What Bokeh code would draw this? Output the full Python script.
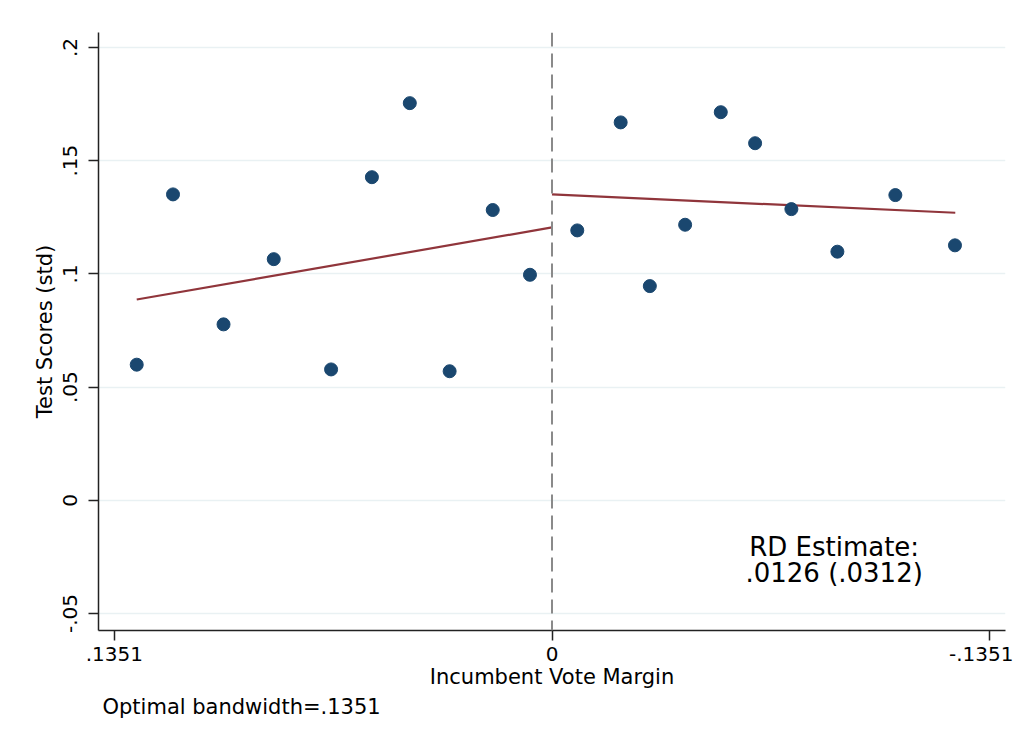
from bokeh.plotting import figure
from bokeh.models import Range1d, FixedTicker, Label, Title, Span
from bokeh.embed import file_html
from bokeh.resources import INLINE

# --- data (binned means) ---
left_x = [0.1282, 0.1170, 0.1014, 0.0859, 0.0682, 0.0556, 0.0439, 0.0316, 0.0183, 0.0068]
left_y = [0.0599, 0.1351, 0.0777, 0.1065, 0.0578, 0.1427, 0.1754, 0.0570, 0.1282, 0.0996]
right_x = [-0.0078, -0.0212, -0.0302, -0.0411, -0.0521, -0.0627, -0.0739, -0.0881, -0.1060, -0.1244]
right_y = [0.1192, 0.1669, 0.0946, 0.1217, 0.1714, 0.1577, 0.1286, 0.1098, 0.1348, 0.1126]

# fitted lines
fit_left_x = [0.1282, 0.0]
fit_left_y = [0.0887, 0.1205]
fit_right_x = [0.0, -0.1245]
fit_right_y = [0.1351, 0.1270]

y_ticks = [-0.05, 0, 0.05, 0.1, 0.15, 0.2]
y_labels = ["-.05", "0", ".05", ".1", ".15", ".2"]
x_ticks = [0.1351, 0, -0.1351]
x_labels = [".1351", "0", "-.1351"]

FONT = "DejaVu Sans"
NAVY = "#1a476f"
MAROON = "#90353b"

p = figure(width=1013, height=738, output_backend="svg", toolbar_location=None,
           x_range=Range1d(0.14, -0.14), y_range=Range1d(-0.0575, 0.2066),
           min_border_left=98, min_border_right=8, min_border_top=32, min_border_bottom=108)
p.outline_line_color = None
p.background_fill_color = "white"
p.border_fill_color = "white"

# grid
p.xgrid.grid_line_color = None
p.ygrid.grid_line_color = "#e9f1f3"
p.ygrid.grid_line_width = 1.5
p.ygrid.ticker = FixedTicker(ticks=y_ticks)

# axes
for ax in (p.xaxis[0], p.yaxis[0]):
    ax.axis_line_color = "#222222"
    ax.axis_line_width = 1.5
    ax.major_tick_line_color = "#222222"
    ax.major_tick_line_width = 1.5
    ax.major_tick_out = 10
    ax.major_tick_in = 0
    ax.minor_tick_line_color = None
    ax.major_label_text_font = FONT
    ax.major_label_text_font_size = "20px"
    ax.major_label_text_color = "black"
    ax.axis_label_text_font = FONT
    ax.axis_label_text_font_size = "21px"
    ax.axis_label_text_font_style = "normal"
    ax.axis_label_text_color = "black"

p.yaxis.ticker = FixedTicker(ticks=y_ticks)
p.yaxis.major_label_overrides = {t: l for t, l in zip(y_ticks, y_labels)}
p.yaxis.major_label_orientation = "vertical"
p.yaxis.axis_label = "Test Scores (std)"
p.yaxis.major_label_standoff = 11
p.yaxis.axis_label_standoff = 4

p.xaxis.ticker = FixedTicker(ticks=x_ticks)
p.xaxis.major_label_overrides = {t: l for t, l in zip(x_ticks, x_labels)}
p.xaxis.axis_label = "Incumbent Vote Margin"
p.xaxis.major_label_standoff = 6
p.xaxis.axis_label_standoff = 1

# cutoff
p.add_layout(Span(location=0, dimension="height", line_color="#8a8a8a",
                  line_width=2, line_dash="14 7"))

# fits
p.line(fit_left_x, fit_left_y, line_color=MAROON, line_width=2.2)
p.line(fit_right_x, fit_right_y, line_color=MAROON, line_width=2.2)

# points
p.scatter(left_x, left_y, size=13, fill_color=NAVY, line_color=NAVY)
p.scatter(right_x, right_y, size=13, fill_color=NAVY, line_color=NAVY)

# RD estimate text
p.add_layout(Label(x=-0.0871, y=-0.0208, text="RD Estimate:", text_align="center",
                   text_baseline="alphabetic", text_font=FONT, text_font_size="26px",
                   text_color="black"))
p.add_layout(Label(x=-0.0871, y=-0.0323, text=".0126 (.0312)", text_align="center",
                   text_baseline="alphabetic", text_font=FONT, text_font_size="26px",
                   text_color="black"))

# note
note = Title(text="Optimal bandwidth=.1351", align="left", text_font=FONT,
             text_font_size="21px", text_font_style="normal", text_color="black",
             offset=4, standoff=3)
p.add_layout(note, "below")

open("out.html", "w").write(file_html(p, INLINE))
